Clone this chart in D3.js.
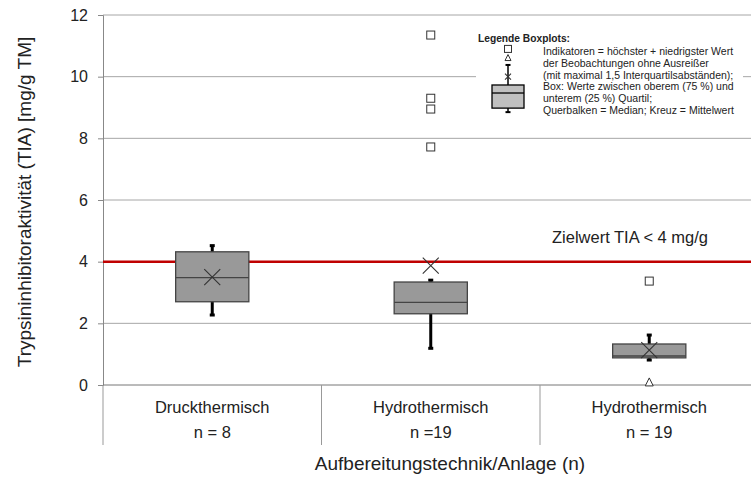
<!DOCTYPE html>
<html>
<head>
<meta charset="utf-8">
<title>TIA Boxplots</title>
<script src="https://d3js.org/d3.v7.min.js"></script>
<style>
body { margin: 0; background: #fff; }
text { font-family: "Liberation Sans", Arial, sans-serif; fill: #222; }
</style>
</head>
<body>
<script type="text/javascript">

var width = 751,
    height = 477;

var margin = { left: 103, top: 15, bottom: 92 };

// data
var categories = ["Druckthermisch", "Hydrothermisch", "Hydrothermisch"];
var nLabels = ["n = 8", "n =19", "n = 19"];
var whiskerLow = [2.27, 1.19, 0.81];
var q1 = [2.70, 2.31, 0.88];
var median = [3.48, 2.68, 0.94];
var q3 = [4.32, 3.34, 1.33];
var whiskerHigh = [4.52, 3.40, 1.62];
var mean = [3.50, 3.87, 1.13];
var maxOutliers = [[], [11.35, 9.30, 8.95, 7.72], [3.37]];
var minOutliers = [[], [], [0.10]];
var yTicks = [0, 2, 4, 6, 8, 10, 12];
var target = 4;

// sample glyph shown in the legend
var legendSample = { max: 10.9, min: 10.62, wHigh: 10.38, mean: 10.0, q3: 9.73, med: 9.47, q1: 8.98, wLow: 8.85 };
var legendLines = [
  "Indikatoren = höchster + niedrigster Wert",
  "der Beobachtungen ohne Ausreißer",
  "(mit maximal  1,5 Interquartilsabständen);",
  "Box: Werte zwischen oberem (75 %)  und",
  "unterem (25 %) Quartil;",
  "Querbalken = Median; Kreuz = Mittelwert"
];

var y = d3.scaleLinear().domain([0, 12]).range([385, margin.top]);
var x = d3.scaleBand().domain(d3.range(categories.length)).range([margin.left, 758.5]).paddingInner(0).paddingOuter(0);
var boxW = x.bandwidth() * 0.335;

var svg = d3.select("body").append("svg")
    .attr("width", width)
    .attr("height", height);

// grid
svg.append("g").selectAll("line")
    .data(yTicks.filter(d => d > 0))
    .enter().append("line")
    .attr("x1", margin.left).attr("x2", width)
    .attr("y1", d => y(d)).attr("y2", d => y(d))
    .style("stroke", "#a6a6a6").style("stroke-width", 1);

// y axis
var yAxis = svg.append("g")
    .attr("transform", "translate(" + margin.left + ",0)")
    .call(d3.axisLeft(y).tickValues(yTicks).tickSize(5).tickPadding(10).tickFormat(d3.format("d")));
yAxis.select(".domain").style("stroke", "#888");
yAxis.selectAll(".tick line").style("stroke", "#888");
yAxis.selectAll("text").style("font-size", "16px").style("fill", "#222")
    .style("font-family", "'Liberation Sans', Arial, sans-serif");

// category axis
svg.append("line")
    .attr("x1", margin.left).attr("x2", width)
    .attr("y1", y(0)).attr("y2", y(0))
    .style("stroke", "#777").style("stroke-width", 1);

svg.append("g").selectAll("line")
    .data(d3.range(categories.length))
    .enter().append("line")
    .attr("x1", d => x(d)).attr("x2", d => x(d))
    .attr("y1", y(0)).attr("y2", 445)
    .style("stroke", "#999").style("stroke-width", 1);

svg.append("g").selectAll("text")
    .data(categories)
    .enter().append("text")
    .attr("x", (d, i) => x(i) + x.bandwidth() / 2)
    .attr("y", 413)
    .attr("text-anchor", "middle")
    .style("font-size", "16.5px")
    .text(d => d);

svg.append("g").selectAll("text")
    .data(nLabels)
    .enter().append("text")
    .attr("x", (d, i) => x(i) + x.bandwidth() / 2)
    .attr("y", 438)
    .attr("text-anchor", "middle")
    .style("font-size", "16.5px")
    .text(d => d);

svg.append("text")
    .attr("x", 450).attr("y", 470)
    .attr("text-anchor", "middle")
    .style("font-size", "19px")
    .text("Aufbereitungstechnik/Anlage (n)");

svg.append("text")
    .attr("transform", "translate(31," + 202 + ") rotate(-90)")
    .attr("text-anchor", "middle")
    .style("font-size", "19px")
    .text("Trypsininhibitoraktivität (TIA) [mg/g TM]");

// legend background + text
var lg = svg.append("g");
lg.append("rect")
    .attr("x", 476).attr("y", 28).attr("width", 267).attr("height", 92)
    .style("fill", "#fff");
lg.append("text")
    .attr("x", 478).attr("y", 42)
    .attr("textLength", 92)
    .attr("lengthAdjust", "spacingAndGlyphs")
    .style("font-size", "10.5px").style("font-weight", "bold")
    .text("Legende Boxplots:");
lg.selectAll("text.line")
    .data(legendLines)
    .enter().append("text")
    .attr("class", "line")
    .attr("x", 543)
    .attr("y", (d, i) => 55 + i * 11.8)
    .style("font-size", "10.5px")
    .text(d => d);

function drawBox(g, cx, w, s, fill, stroke, capW, capH, wStroke, xSize) {
    g.append("line")
        .attr("x1", cx).attr("x2", cx)
        .attr("y1", y(s.wLow)).attr("y2", y(s.wHigh))
        .style("stroke", "#000").style("stroke-width", wStroke);
    [s.wLow, s.wHigh].forEach(function (v) {
        g.append("rect")
            .attr("x", cx - capW / 2).attr("y", y(v) - capH / 2)
            .attr("width", capW).attr("height", capH)
            .style("fill", "#000");
    });
    g.append("rect")
        .attr("x", cx - w / 2).attr("y", y(s.q3))
        .attr("width", w).attr("height", y(s.q1) - y(s.q3))
        .style("fill", fill).style("stroke", stroke).style("stroke-width", 1.3);
    g.append("line")
        .attr("x1", cx - w / 2).attr("x2", cx + w / 2)
        .attr("y1", y(s.med)).attr("y2", y(s.med))
        .style("stroke", stroke).style("stroke-width", 1.3);
    var m = y(s.mean);
    g.append("path")
        .attr("d", "M" + (cx - xSize) + "," + (m - xSize) + "L" + (cx + xSize) + "," + (m + xSize) +
                   "M" + (cx - xSize) + "," + (m + xSize) + "L" + (cx + xSize) + "," + (m - xSize))
        .style("stroke", "#333").style("stroke-width", 1.1).style("fill", "none");
}

function drawSquare(g, cx, v, s) {
    g.append("rect")
        .attr("x", cx - s / 2).attr("y", y(v) - s / 2)
        .attr("width", s).attr("height", s)
        .style("fill", "#fff").style("stroke", "#333").style("stroke-width", 1);
}

function drawTriangle(g, cx, v, s) {
    var yy = y(v);
    g.append("path")
        .attr("d", "M" + cx + "," + (yy - s / 2) + "L" + (cx + s / 2) + "," + (yy + s / 2) + "L" + (cx - s / 2) + "," + (yy + s / 2) + "Z")
        .style("fill", "#fff").style("stroke", "#333").style("stroke-width", 1);
}

// target line
svg.append("line")
    .attr("x1", margin.left).attr("x2", width)
    .attr("y1", y(target)).attr("y2", y(target))
    .style("stroke", "#c00000").style("stroke-width", 2.5);

svg.append("text")
    .attr("x", 552).attr("y", 243)
    .style("font-size", "16.5px")
    .text("Zielwert  TIA < 4 mg/g");

// boxplots
var boxes = svg.append("g");
categories.forEach(function (c, i) {
    var cx = x(i) + x.bandwidth() / 2;
    var g = boxes.append("g");
    drawBox(g, cx, boxW, {
        wLow: whiskerLow[i], q1: q1[i], med: median[i], q3: q3[i], wHigh: whiskerHigh[i], mean: mean[i]
    }, "#999999", "#444", 5, 3, 3, 8);
    maxOutliers[i].forEach(v => drawSquare(g, cx, v, 8));
    minOutliers[i].forEach(v => drawTriangle(g, cx, v, 8));
});

// legend glyph
var lgx = 508;
var lgBox = lg.append("g");
drawBox(lgBox, lgx, 32, {
    wLow: legendSample.wLow, q1: legendSample.q1, med: legendSample.med, q3: legendSample.q3,
    wHigh: legendSample.wHigh, mean: legendSample.mean
}, "#c0c0c0", "#000", 5, 2, 1.5, 3);
drawSquare(lgBox, lgx, legendSample.max, 7);
drawTriangle(lgBox, lgx, legendSample.min, 6);

</script>
</body>
</html>
